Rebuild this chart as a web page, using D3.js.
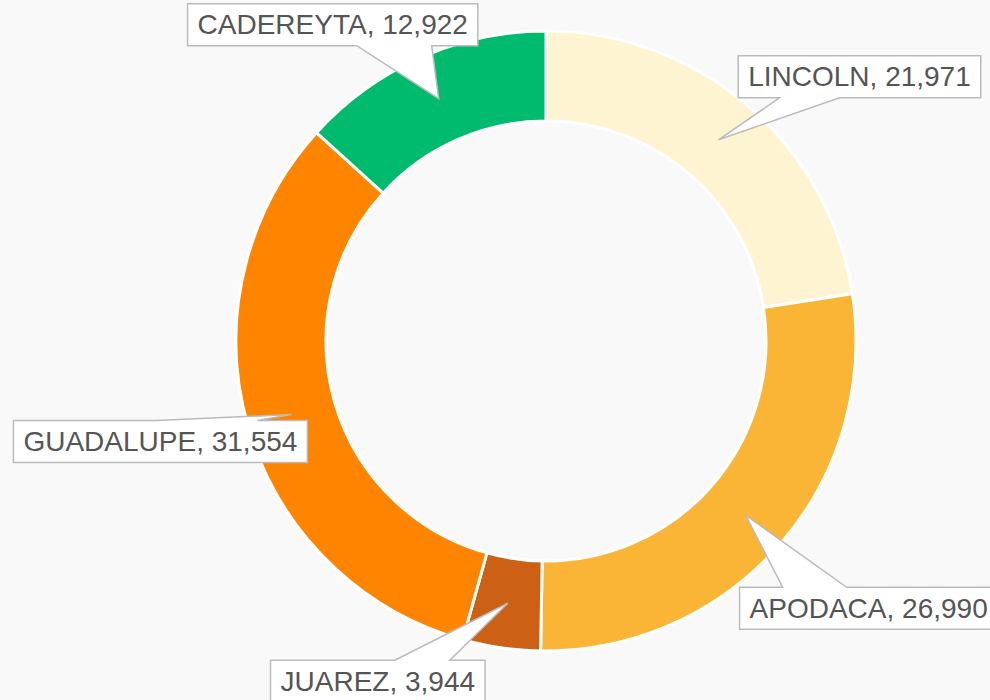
<!DOCTYPE html>
<html>
<head>
<meta charset="utf-8">
<script src="https://cdn.jsdelivr.net/npm/d3@7"></script>
<style>
  html, body { margin: 0; padding: 0; background: #f9f9f9; }
  svg { display: block; }
</style>
</head>
<body>
<script>
// data
var names = ['LINCOLN', 'APODACA', 'JUAREZ', 'GUADALUPE', 'CADEREYTA'];
var values = [21971, 26990, 3944, 31554, 12922];
var colors = ['#fff4d2', '#fab536', '#cc6115', '#ff8400', '#00bb6e'];

// callout layout: offset of box centre from slice centroid, edge the pointer sits on, pointer base (relative to box centre)
var callouts = [
  { dx: 141, dy: -63, side: 'bottom', b0: -80, b1: -20 },
  { dx: 123, dy: 93, side: 'top', b0: -86, b1: -22 },
  { dx: -130, dy: 78, side: 'top', b0: 17, b1: 72 },
  { dx: -131, dy: 27, side: 'top', b0: -4, b1: 97 },
  { dx: -106, dy: -74, side: 'bottom', b0: 24, b1: 99 }
];

var _w = 990, _h = 700;
var cx = 546, cy = 341, rOut = 310, rIn = 220;
var fmt = d3.format(',');

var svg = d3.select('body').append('svg')
  .attr('width', _w)
  .attr('height', _h);

svg.append('rect').attr('width', _w).attr('height', _h).attr('fill', '#f9f9f9');

var pie = d3.pie().sort(null).value(function(d) { return d; });
var arcs = pie(values);
var arc = d3.arc().innerRadius(rIn).outerRadius(rOut);

var g = svg.append('g').attr('transform', 'translate(' + cx + ',' + cy + ')');

g.selectAll('path.slice')
  .data(arcs)
  .enter().append('path')
  .attr('class', 'slice')
  .attr('d', arc)
  .attr('fill', function(d, i) { return colors[i]; })
  .attr('stroke', '#fff')
  .attr('stroke-width', 3);

// callouts
var lab = g.selectAll('g.callout')
  .data(arcs)
  .enter().append('g')
  .attr('class', 'callout');

lab.each(function(d, i) {
  var node = d3.select(this);
  var c = arc.centroid(d);
  var o = callouts[i];
  var bx = c[0] + o.dx, by = c[1] + o.dy;

  var txt = node.append('text')
    .attr('x', bx)
    .attr('y', by)
    .attr('text-anchor', 'middle')
    .attr('dominant-baseline', 'central')
    .attr('font-family', 'Liberation Sans, Arial, sans-serif')
    .attr('font-size', 28)
    .attr('fill', '#555')
    .text(names[i] + ', ' + fmt(values[i]));

  var tw = txt.node().getComputedTextLength();
  var hw = tw / 2 + 10, hh = 21;
  var L = bx - hw, R = bx + hw, T = by - hh, B = by + hh;

  var p = d3.path();
  if (o.side === 'top') {
    p.moveTo(L, T);
    p.lineTo(bx + o.b0, T);
    p.lineTo(c[0], c[1]);
    p.lineTo(bx + o.b1, T);
    p.lineTo(R, T);
    p.lineTo(R, B);
    p.lineTo(L, B);
  } else {
    p.moveTo(L, T);
    p.lineTo(R, T);
    p.lineTo(R, B);
    p.lineTo(bx + o.b1, B);
    p.lineTo(c[0], c[1]);
    p.lineTo(bx + o.b0, B);
    p.lineTo(L, B);
  }
  p.closePath();

  node.insert('path', 'text')
    .attr('d', p.toString())
    .attr('fill', '#fff')
    .attr('stroke', '#bbb')
    .attr('stroke-width', 1.5)
    .attr('stroke-linejoin', 'miter');
});
</script>
</body>
</html>
